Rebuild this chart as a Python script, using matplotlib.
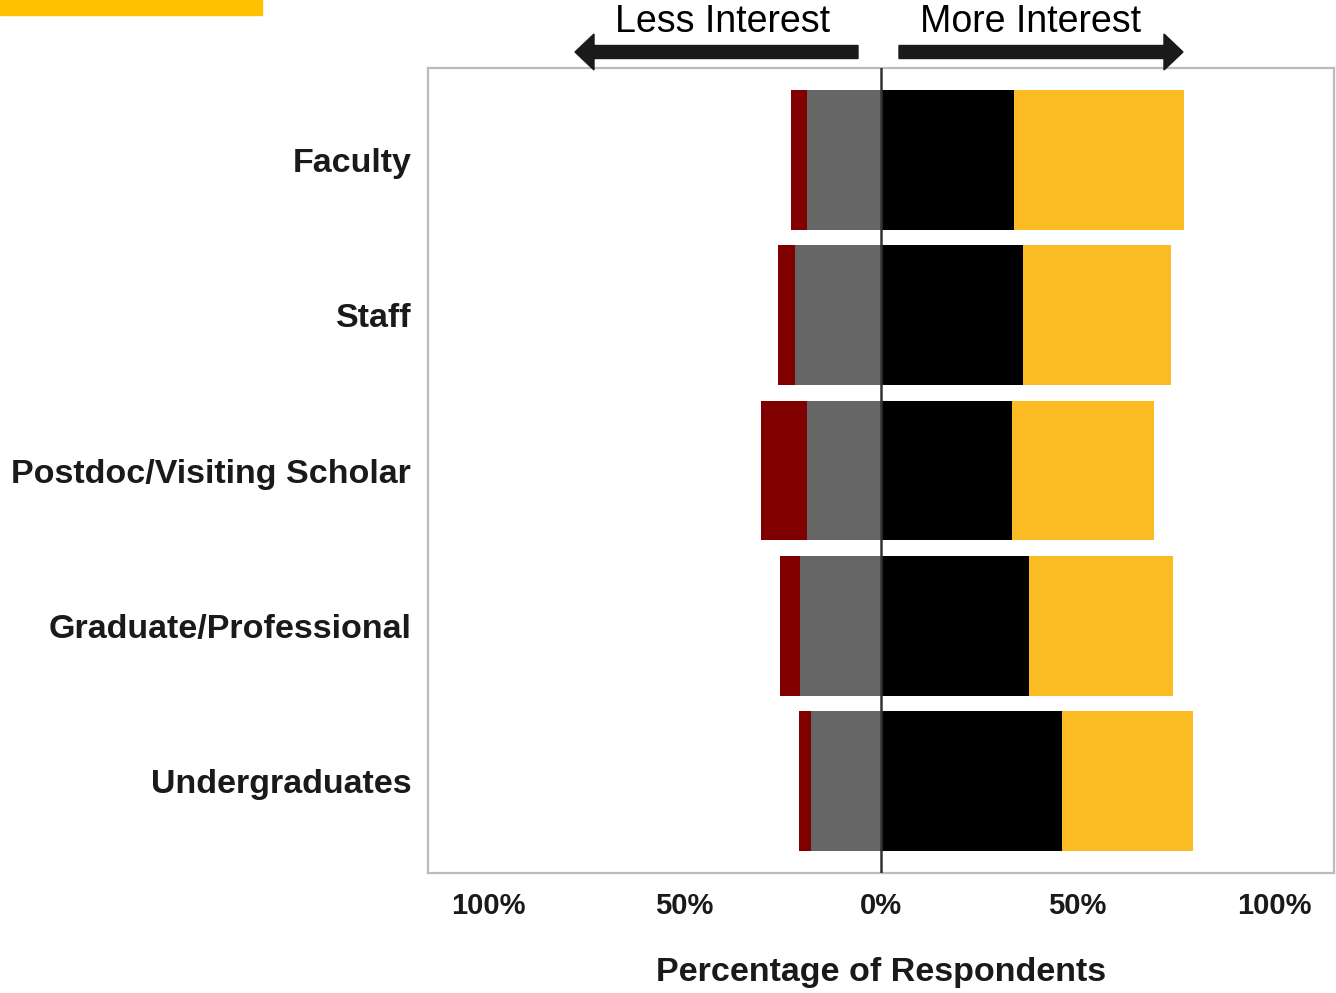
import matplotlib
matplotlib.use("Agg")
from matplotlib import pyplot as plt
from matplotlib.patches import Rectangle, FancyArrow

# Groups, top to bottom
groups = ["Faculty", "Staff", "Postdoc/Visiting Scholar", "Graduate/Professional", "Undergraduates"]

# Percent of respondents per answer level
much_less = [4.1, 4.3, 11.7, 5.1, 3.1]     # dark red, far left
less = [18.8, 21.9, 18.8, 20.6, 17.8]       # gray, next to zero
more = [33.8, 36.1, 33.3, 37.7, 46.1]       # black, right of zero
much_more = [43.3, 37.7, 36.1, 36.6, 33.3]  # yellow, far right

ticks = [-100, -50, 0, 50, 100]
tick_labels = ["100%", "50%", "0%", "50%", "100%"]

plt.rcParams["font.family"] = ["Liberation Sans", "DejaVu Sans"]

W, H = 1336, 993
fig = plt.figure(figsize=(W / 100, H / 100), dpi=100)
ax = fig.add_axes([428 / W, 1 - 873 / H, 906 / W, 805 / H])

y = list(range(len(groups)))
h = 0.9
neg_less = [-v for v in less]
neg_much_less = [-(a + b) for a, b in zip(less, much_less)]

ax.barh(y, neg_less, height=h, color="#666666", zorder=2)
ax.barh(y, much_less, left=neg_much_less, height=h, color="#800000", zorder=2)
ax.barh(y, more, height=h, color="#000000", zorder=2)
ax.barh(y, much_more, left=more, height=h, color="#FBBC23", zorder=2)

ax.axvline(0, color="#333333", linewidth=1.8, zorder=3)

ax.set_xlim(-115.3, 115.3)
ax.set_ylim(len(groups) - 0.41, -0.59)
ax.set_yticks(y)
ax.set_yticklabels(groups, fontsize=24.5, fontweight="bold", color="#1a1a1a")
ax.set_xticks(ticks)
ax.set_xticklabels(tick_labels, fontsize=21, fontweight="bold", color="#1a1a1a")
ax.tick_params(length=0, axis="y", pad=12)
ax.tick_params(length=0, axis="x", pad=14)
ax.set_xlabel("Percentage of Respondents", fontsize=24.5, fontweight="bold",
              color="#1a1a1a", labelpad=26)

for s in ax.spines.values():
    s.set_color("#BBBBBB")
    s.set_linewidth(1.6)

# interest arrows above the plot
fig.text(723 / W, 1 - 22 / H, "Less Interest", fontsize=27, ha="center", va="center")
fig.text(1031 / W, 1 - 22 / H, "More Interest", fontsize=27, ha="center", va="center")
arrow_kw = dict(width=13 / H, head_width=36 / H, head_length=19 / W,
                length_includes_head=True, color="#1a1a1a", transform=fig.transFigure)
fig.add_artist(FancyArrow(858 / W, 1 - 52 / H, -(858 - 575) / W, 0, **arrow_kw))
fig.add_artist(FancyArrow(899 / W, 1 - 52 / H, (1183 - 899) / W, 0, **arrow_kw))

# yellow strip in top-left corner
fig.patches.append(Rectangle((0, 1 - 15 / H), 262 / W, 15 / H,
                             transform=fig.transFigure, color="#FFC000", zorder=5))

fig.savefig("out.png", dpi=100)
